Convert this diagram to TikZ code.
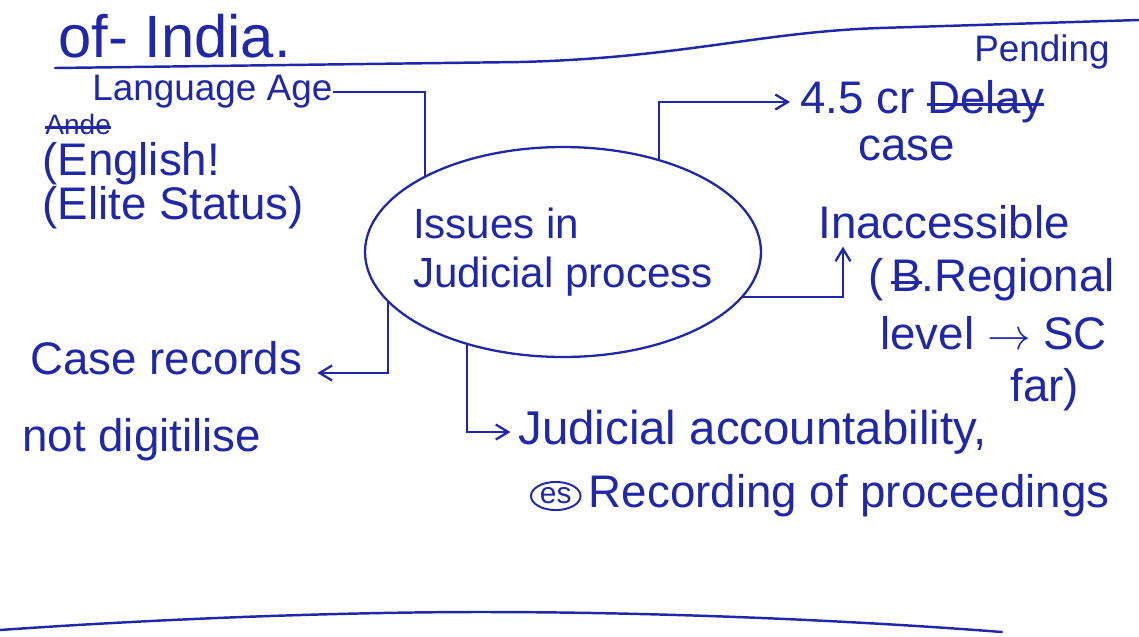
\documentclass[tikz,border=0pt]{standalone}
\usepackage{fontspec}
\setmainfont{Liberation Sans}
\usepackage{xcolor}
\usepackage{tikz}
\usetikzlibrary{arrows.meta,positioning,shapes.geometric}
\definecolor{tinta}{RGB}{32,40,168}
\newcommand{\riscar}[1]{\setbox0\hbox{#1}\rlap{\raisebox{0.32ex}{\rule{\wd0}{1.6pt}}}\box0}
\tikzset{
    nota/.style={
        text=tinta,
        inner sep=0pt,
        anchor=west,
        font=\fontsize{26}{30}\selectfont
    },
    notaPequena/.style={nota, font=\fontsize{21}{25}\selectfont},
    tema/.style={
        ellipse,
        draw=tinta,
        line width=1.3pt,
        text=tinta,
        align=left,
        inner xsep=-0.2cm,
        inner ysep=0pt,
        minimum width=7.8cm,
        minimum height=4.2cm,
        font=\fontsize{24}{28}\selectfont
    },
    fluxo/.style={-{Straight Barb[length=2.5mm,width=3mm]}, draw=tinta, line width=1.3pt},
    ligacao/.style={draw=tinta, line width=1.3pt},
    regua/.style={draw=tinta, line width=1.4pt, line cap=round}
}

\begin{document}
\begin{tikzpicture}[x=0.02cm, y=-0.02cm]
    \fill[white] (0,0) rectangle (1139,636);
    \useasboundingbox (0,0) rectangle (1139,636);

    % linhas da pagina
    \draw[regua] (55,68) -- (520,62) .. controls (680,58) and (760,32) .. (880,28) -- (1139,20);
    \draw[regua] (0,630) .. controls (200,616) and (380,612) .. (480,612) .. controls (700,612) and (900,624) .. (1002,632);

    \node[nota, font=\fontsize{34}{40}\selectfont] (titulo) at (58,36) {of- India.};

    \node[tema] (questoes) at (563,252) {Issues in\\Judicial process};

    \node[notaPequena] (lingua) at (92,92) {Language Age};
    \node[nota, font=\fontsize{16}{20}\selectfont] (riscado) at (45,124) {\riscar{Ande}};
    \node[nota] (ingles) at (42,164) {(English!};
    \node[nota] (elite) at (42,208) {(Elite Status)};

    \node[notaPequena, anchor=east] (pend) at (1110,52) {Pending};
    \node[nota] (pendente) at (800,102) {4.5 cr \riscar{Delay}};
    \node[nota] (caso) at (858,148) {case};

    \node[nota] (inacessivel) at (818,222) {Inaccessible};
    \node[nota] (regional) at (868,280) {(\,\riscar{B}.Regional};
    \node[nota] (nivel) at (880,333) {level $\rightarrow$ SC};
    \node[nota] (longe) at (1010,390) {far)};

    \node[nota] (registros) at (30,358) {Case records};
    \node[nota] (digital) at (22,440) {not digitilise};

    \node[nota, font=\fontsize{27}{31}\selectfont] (judicial) at (518,432) {Judicial accountability,};
    \node[nota, ellipse, draw=tinta, line width=1.1pt, inner sep=1pt,
          font=\fontsize{17}{20}\selectfont] (es) at (530,496) {es};
    \node[nota, right=4pt of es] (gravacao) {Recording of proceedings};

    \draw[ligacao] (lingua.east) -| (questoes.151);
    \draw[fluxo] (questoes.44) |- ([xshift=-0.2cm]pendente.west);
    \draw[fluxo] (questoes.-14) -| ([xshift=0.5cm,yshift=-0.15cm]inacessivel.south west);
    \draw[fluxo] (questoes.196) |- ([shift={(0.3cm,-0.3cm)}]registros.east);
    \draw[fluxo] (questoes.224) |- ([xshift=-0.15cm]judicial.west);
\end{tikzpicture}
\end{document}
